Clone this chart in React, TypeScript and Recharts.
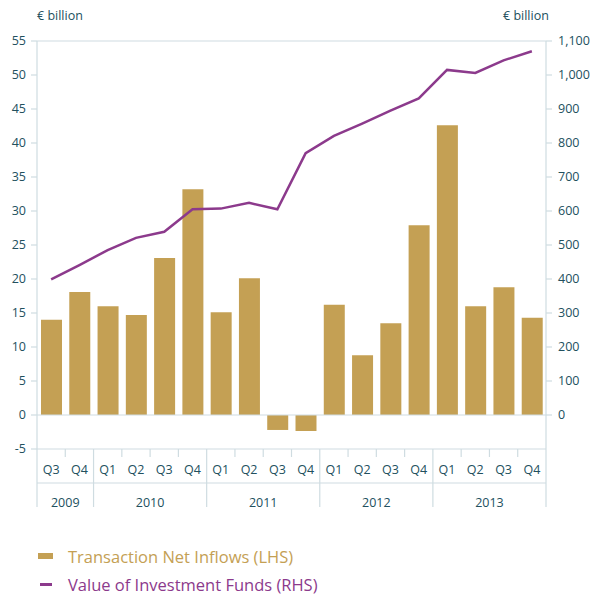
import React from "react"
import {
  ComposedChart,
  Bar,
  Line,
  XAxis,
  YAxis,
  ReferenceLine,
  Legend,
} from "recharts"

const quarters = ["Q3", "Q4", "Q1", "Q2", "Q3", "Q4", "Q1", "Q2", "Q3", "Q4", "Q1", "Q2", "Q3", "Q4", "Q1", "Q2", "Q3", "Q4"]
const years = ["2009", "2009", "2010", "2010", "2010", "2010", "2011", "2011", "2011", "2011", "2012", "2012", "2012", "2012", "2013", "2013", "2013", "2013"]
const inflows = [14.0, 18.1, 16.0, 14.7, 23.1, 33.2, 15.1, 20.1, -2.2, -2.35, 16.2, 8.8, 13.5, 27.9, 42.6, 16.0, 18.8, 14.3]
const fundValue = [399, 441, 485, 521, 539, 605, 607, 624, 605, 770, 821, 857, 895, 931, 1015, 1006, 1043, 1070]
const leftTicks = [-5, 0, 5, 10, 15, 20, 25, 30, 35, 40, 45, 50, 55]
const rightTicks = [0, 100, 200, 300, 400, 500, 600, 700, 800, 900, 1000, 1100]

const data = quarters.map((q, i) => ({
  q,
  year: years[i],
  inflow: inflows[i],
  value: fundValue[i],
}))

const W = 604
const H = 597
const LEFT_W = 37
const RIGHT_W = 58
const STEP = (W - LEFT_W - RIGHT_W) / data.length

const GOLD = "#C4A054"
const PURPLE = "#8C3A8C"
const TEXT = "#22505E"
const RULE = "#CFDCE1"
const FONT = "'Open Sans', sans-serif"

function QuarterTick(props: any) {
  const { x, y, index, payload } = props
  const i = index
  const startsYear = i === 0 || years[i] !== years[i - 1]
  const left = x - STEP / 2
  const right = x + STEP / 2
  return (
    <g>
      <line x1={left} x2={left} y1={y} y2={y + (startsYear ? 58 : 8)} stroke={RULE} strokeWidth={1.2} />
      {i === data.length - 1 && (
        <line x1={right} x2={right} y1={y} y2={y + 58} stroke={RULE} strokeWidth={1.2} />
      )}
      <text x={x} y={y + 25} textAnchor="middle" fill={TEXT} fontSize={12.5} fontFamily={FONT}>
        {payload.value}
      </text>
    </g>
  )
}

function YearTick(props: any) {
  const { x, y, index, payload } = props
  const yr = years[index]
  const s = years.indexOf(yr)
  const e = years.lastIndexOf(yr)
  const mid = (s + e) / 2
  if (index !== Math.floor(mid)) return <g />
  return (
    <text x={x + (mid - index) * STEP} y={y + 24} textAnchor="middle" fill={TEXT} fontSize={12.5} fontFamily={FONT}>
      {payload.value}
    </text>
  )
}

function ChartLegend() {
  return (
    <div style={{ position: "absolute", left: 38, top: 544, fontFamily: FONT, fontSize: 16.5 }}>
      <div style={{ display: "flex", alignItems: "center", height: 24, color: GOLD }}>
        <span style={{ display: "inline-block", width: 15, height: 6, background: GOLD, marginRight: 15 }} />
        Transaction Net Inflows (LHS)
      </div>
      <div style={{ display: "flex", alignItems: "center", height: 24, marginTop: 4, color: PURPLE }}>
        <span style={{ display: "inline-block", width: 12, height: 3, background: PURPLE, marginLeft: 2, marginRight: 16 }} />
        Value of Investment Funds (RHS)
      </div>
    </div>
  )
}

export default function App() {
  return (
    <div style={{ position: "absolute", left: 0, top: 0, width: W, height: H, background: "#fff" }}>
      <span style={{ position: "absolute", left: 37, top: 7, fontFamily: FONT, fontSize: 12.5, color: TEXT }}>€ billion</span>
      <span style={{ position: "absolute", left: 503, top: 7, fontFamily: FONT, fontSize: 12.5, color: TEXT }}>€ billion</span>
      <ComposedChart width={W} height={H} data={data} margin={{ top: 41, right: 0, left: 0, bottom: 90 }} barCategoryGap={0}>
        <XAxis
          xAxisId="q"
          dataKey="q"
          height={34}
          interval={0}
          tickLine={false}
          tickSize={0}
          tickMargin={0}
          axisLine={{ stroke: RULE, strokeWidth: 1.2 }}
          tick={<QuarterTick />}
        />
        <XAxis
          xAxisId="year"
          dataKey="year"
          height={24}
          interval={0}
          tickLine={false}
          tickSize={0}
          tickMargin={0}
          axisLine={{ stroke: RULE, strokeWidth: 1.2 }}
          tick={<YearTick />}
        />
        <YAxis
          yAxisId="left"
          width={LEFT_W}
          domain={[-5, 55]}
          ticks={leftTicks}
          interval={0}
          tickSize={6}
          tickMargin={5}
          axisLine={{ stroke: RULE, strokeWidth: 1.2 }}
          tickLine={{ stroke: RULE, strokeWidth: 1.2 }}
          tick={{ fill: TEXT, fontSize: 12.5, fontFamily: FONT }}
        />
        <YAxis
          yAxisId="right"
          orientation="right"
          width={RIGHT_W}
          domain={[-100, 1100]}
          ticks={rightTicks}
          interval={0}
          tickSize={6}
          tickMargin={6}
          axisLine={{ stroke: RULE, strokeWidth: 1.2 }}
          tickLine={{ stroke: RULE, strokeWidth: 1.2 }}
          tick={{ fill: TEXT, fontSize: 12.5, fontFamily: FONT }}
          tickFormatter={(v: number) => v.toLocaleString("en-US")}
        />
        <ReferenceLine xAxisId="q" yAxisId="left" y={55} stroke={RULE} strokeWidth={1.2} />
        <ReferenceLine xAxisId="q" yAxisId="left" y={0} stroke={RULE} strokeWidth={1.2} />
        <Bar xAxisId="q" yAxisId="left" dataKey="inflow" fill={GOLD} barSize={21} isAnimationActive={false} />
        <Line
          xAxisId="q"
          yAxisId="right"
          dataKey="value"
          type="linear"
          stroke={PURPLE}
          strokeWidth={2.5}
          dot={false}
          isAnimationActive={false}
        />
        <Legend content={() => null} />
      </ComposedChart>
      <ChartLegend />
    </div>
  )
}
